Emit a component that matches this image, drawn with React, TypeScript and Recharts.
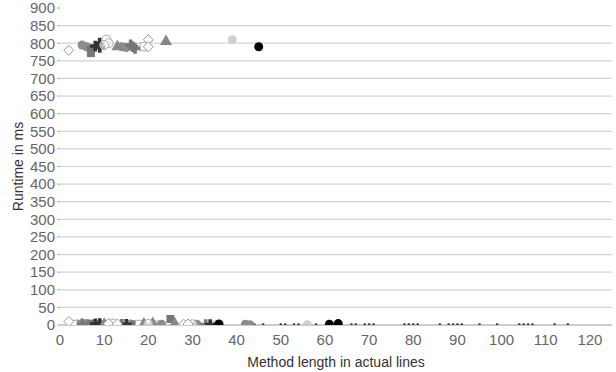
import { CartesianGrid, Scatter, ScatterChart, XAxis, YAxis, ZAxis } from 'recharts';

type Pt = { x: number; y: number };

const xTicks = [0, 10, 20, 30, 40, 50, 60, 70, 80, 90, 100, 110, 120];
const yTicks = [0, 50, 100, 150, 200, 250, 300, 350, 400, 450, 500, 550, 600, 650, 700, 750, 800, 850, 900];

// series (x = method length, y = runtime ms)
const openDiamond: Pt[] = [
    { x: 2, y: 780 }, { x: 20, y: 810 }, { x: 20, y: 790 },
    { x: 2, y: 10 }, { x: 11, y: 4 }, { x: 13, y: 3 }, { x: 28, y: 2 }, { x: 29, y: 3 },
];
const grayCircle: Pt[] = [
    { x: 5, y: 795 }, { x: 6, y: 790 }, { x: 14, y: 790 }, { x: 15, y: 788 },
    { x: 4, y: 3 }, { x: 6, y: 4 }, { x: 9, y: 2 }, { x: 16, y: 3 }, { x: 23, y: 2 },
    { x: 31, y: 2 }, { x: 42, y: 2 }, { x: 43, y: 1 },
];
const darkSquare: Pt[] = [
    { x: 7, y: 782 }, { x: 7, y: 772 },
    { x: 25, y: 17 }, { x: 7, y: 4 }, { x: 17, y: 2 },
];
const darkCross: Pt[] = [
    { x: 9, y: 800 }, { x: 8, y: 792 }, { x: 9, y: 788 },
    { x: 8, y: 3 }, { x: 9, y: 4 }, { x: 15, y: 2 }, { x: 34, y: 1 },
];
const openCircle: Pt[] = [
    { x: 10.5, y: 810 }, { x: 11, y: 800 }, { x: 10, y: 795 },
    { x: 12, y: 4 }, { x: 20, y: 3 }, { x: 30, y: 2 },
];
const grayCross: Pt[] = [
    { x: 16, y: 795 }, { x: 17, y: 785 }, { x: 16.5, y: 790 },
    { x: 5, y: 3 }, { x: 14, y: 2 }, { x: 33, y: 1 },
];
const grayTriangle: Pt[] = [
    { x: 13, y: 790 }, { x: 24, y: 805 },
    { x: 19, y: 3 }, { x: 21, y: 4 }, { x: 26, y: 3 }, { x: 10, y: 2 },
];
const lightCircle: Pt[] = [
    { x: 39, y: 810 },
    { x: 22, y: 2 }, { x: 56, y: 1 }, { x: 35, y: 1 },
];
const blackCircle: Pt[] = [
    { x: 45, y: 790 },
    { x: 36, y: 3 }, { x: 63, y: 4 }, { x: 61, y: 2 },
];
const openSquare: Pt[] = [
    { x: 19, y: 790 },
    { x: 18, y: 2 }, { x: 3, y: 2 },
];
const smallDots: Pt[] = [
    { x: 44, y: 1 }, { x: 46, y: 1 }, { x: 50, y: 1 }, { x: 51, y: 1 },
    { x: 53, y: 1 }, { x: 54, y: 1 }, { x: 58, y: 1 }, { x: 66, y: 1 }, { x: 67, y: 1 },
    { x: 69, y: 1 }, { x: 70, y: 1 }, { x: 71, y: 1 }, { x: 78, y: 1 }, { x: 79, y: 1 },
    { x: 80, y: 1 }, { x: 81, y: 1 }, { x: 86, y: 1 }, { x: 88, y: 1 }, { x: 89, y: 1 },
    { x: 90, y: 1 }, { x: 91, y: 1 }, { x: 95, y: 1 }, { x: 99, y: 1 }, { x: 104, y: 1 },
    { x: 105, y: 1 }, { x: 106, y: 1 }, { x: 107, y: 1 }, { x: 112, y: 1 }, { x: 115, y: 1 },
];

const gridValues = yTicks.filter((v) => v > 0 && v < 900);

// square-ish diamond like the reference (recharts' own is narrow)
function Diamond(props: any) {
    const { cx, cy } = props;
    const r = 5;
    return (
        <polygon
            points={`${cx},${cy - r} ${cx + r},${cy} ${cx},${cy + r} ${cx - r},${cy}`}
            fill="#fff"
            stroke="#999"
        />
    );
}

function Speck(props: any) {
    const { cx, cy } = props;
    return <circle cx={cx} cy={cy} r={1.3} fill="#333" />;
}

export default function App() {
    const font = '"Liberation Sans", Arial, sans-serif';
    return (
        <div style={{ position: 'absolute', left: 0, top: 0, width: 616, height: 372, background: '#fff' }}>
            <ScatterChart
                width={616}
                height={372}
                margin={{ top: 8, right: 4, bottom: 0, left: 0 }}
                style={{ fontFamily: font }}
            >
                <CartesianGrid
                    vertical={false}
                    horizontalValues={gridValues}
                    stroke="#d4d4d4"
                    strokeWidth={1.2}
                />
                <XAxis
                    type="number"
                    dataKey="x"
                    domain={[0, 125]}
                    ticks={xTicks}
                    tickLine={false}
                    axisLine={{ stroke: '#9a9a9a', strokeWidth: 1.2 }}
                    tick={{ fill: '#666', fontSize: 15 }}
                    tickMargin={3}
                    height={47}
                    label={{ value: 'Method length in actual lines', position: 'insideBottom', offset: 5, fill: '#333', fontSize: 14 }}
                />
                <YAxis
                    type="number"
                    dataKey="y"
                    domain={[0, 900]}
                    ticks={yTicks}
                    allowDataOverflow
                    interval={0}
                    axisLine={false}
                    tickLine={{ stroke: '#aaa' }}
                    tickSize={3}
                    tickMargin={2}
                    tick={{ fill: '#666', fontSize: 15 }}
                    width={60}
                    label={{ value: 'Runtime in ms', angle: -90, position: 'insideLeft', offset: 18, fill: '#333', fontSize: 14, style: { textAnchor: 'middle' } }}
                />
                <ZAxis range={[50, 50]} />
                <Scatter data={smallDots} shape={<Speck />} isAnimationActive={false} />
                <Scatter data={lightCircle} shape="circle" fill="#d0d0d0" isAnimationActive={false} />
                <Scatter data={grayCircle} shape="circle" fill="#8c8c8c" isAnimationActive={false} />
                <Scatter data={darkSquare} shape="square" fill="#777" isAnimationActive={false} />
                <Scatter data={openSquare} shape="square" fill="#fff" stroke="#aaa" isAnimationActive={false} />
                <Scatter data={grayCross} shape="cross" fill="#777" isAnimationActive={false} />
                <Scatter data={darkCross} shape="cross" fill="#333" isAnimationActive={false} />
                <Scatter data={grayTriangle} shape="triangle" fill="#888" isAnimationActive={false} />
                <Scatter data={openCircle} shape="circle" fill="#fff" fillOpacity={0.6} stroke="#aaa" isAnimationActive={false} />
                <Scatter data={openDiamond} shape={<Diamond />} isAnimationActive={false} />
                <Scatter data={blackCircle} shape="circle" fill="#000" isAnimationActive={false} />
            </ScatterChart>
        </div>
    );
}
